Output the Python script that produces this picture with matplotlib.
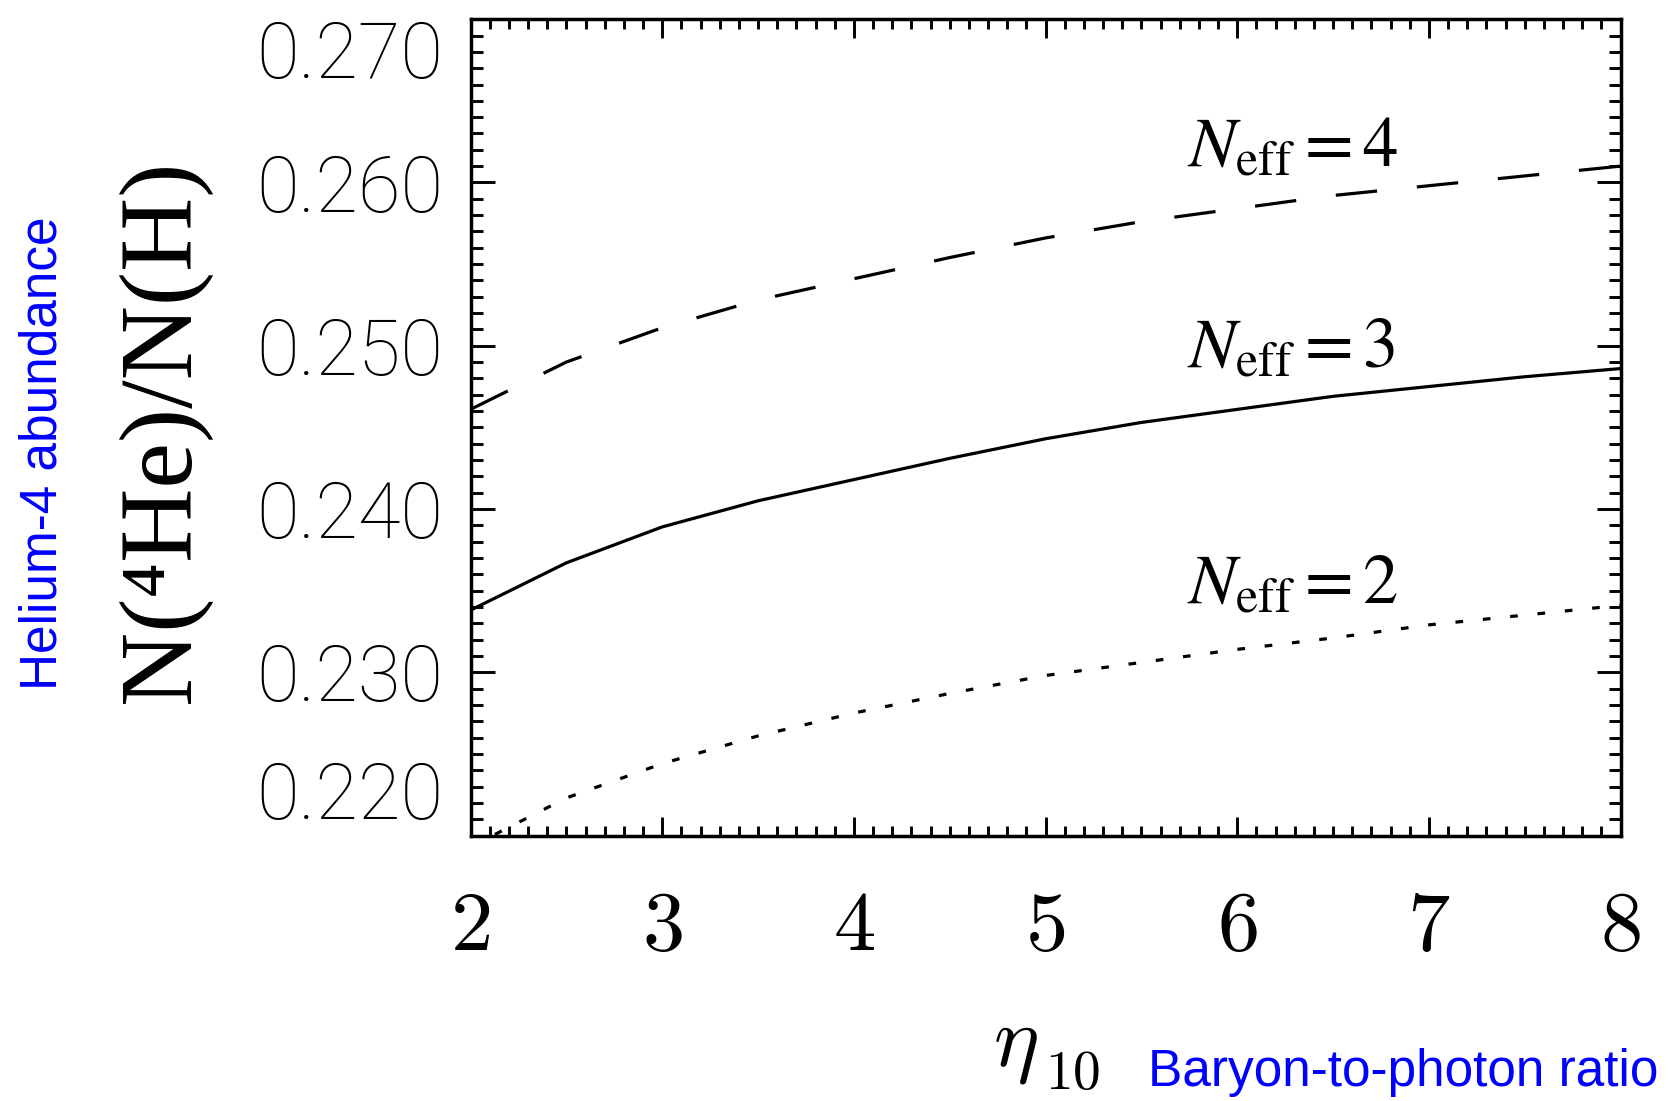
import matplotlib
matplotlib.use("Agg")
import matplotlib.pyplot as plt
from matplotlib import font_manager as fm
from matplotlib.ticker import MultipleLocator, FuncFormatter

# values
eta10 = [2.0, 2.5, 3.0, 3.5, 4.0, 4.5, 5.0, 5.5, 6.0, 6.5, 7.0, 7.5, 8.0]
yp_neff2 = [0.2193, 0.2223, 0.2244, 0.2261, 0.2275, 0.2287, 0.2298,
            0.2306, 0.2314, 0.2321, 0.2329, 0.2335, 0.2341]
yp_neff3 = [0.2338, 0.2367, 0.2389, 0.2405, 0.2418, 0.2431, 0.2443,
            0.2453, 0.2461, 0.2469, 0.2475, 0.2481, 0.2486]
yp_neff4 = [0.2461, 0.2490, 0.2511, 0.2528, 0.2541, 0.2554, 0.2566,
            0.2576, 0.2584, 0.2592, 0.2598, 0.2604, 0.2610]

neff_names = ["2", "3", "4"]
neff_label_x = 5.74
neff_label_y = [0.2342, 0.2487, 0.2610]

x_ticks = [2, 3, 4, 5, 6, 7, 8]
y_ticks = [0.220, 0.230, 0.240, 0.250, 0.260, 0.270]

W, H = 1673, 1101


def has_font(name):
    try:
        fm.findfont(fm.FontProperties(family=name), fallback_to_default=False)
        return True
    except ValueError:
        return False


if has_font("Liberation Sans Narrow"):
    tick_font, tick_size = "Liberation Sans Narrow", 66
elif has_font("Roboto"):
    tick_font, tick_size = "Roboto", 56
else:
    tick_font, tick_size = "Liberation Sans", 55

plt.rcParams["mathtext.fontset"] = "cm"

fig = plt.figure(figsize=(W / 100, H / 100), dpi=100)
ax = fig.add_axes([470.5 / W, 1 - 835.5 / H, 1150 / W, 816.3 / H])

lw = 2.3
ax.plot(eta10, yp_neff4, color="black", lw=lw, dashes=(13, 12.5))
ax.plot(eta10, yp_neff3, color="black", lw=lw)
ax.plot(eta10, yp_neff2, color="black", lw=lw, dashes=(2.4, 6.2))

ax.set_xlim(2, 8)
ax.set_ylim(0.220, 0.270)
ax.set_xticks(x_ticks)
ax.set_yticks(y_ticks)
ax.xaxis.set_minor_locator(MultipleLocator(0.1))
ax.yaxis.set_minor_locator(MultipleLocator(0.001))
ax.xaxis.set_major_formatter(FuncFormatter(lambda v, p: f"${int(round(v))}$"))
ax.yaxis.set_major_formatter(FuncFormatter(lambda v, p: f"{v:.3f}"))

for s in ax.spines.values():
    s.set_linewidth(2.5)

ax.tick_params(axis="both", which="both", direction="in",
               top=True, right=True, width=2.1, color="black")
ax.tick_params(axis="x", which="major", length=13.4, pad=36, labelsize=61)
ax.tick_params(axis="x", which="minor", length=7.2)
ax.tick_params(axis="y", which="major", length=17.6, pad=19.5,
               labelsize=tick_size)
ax.tick_params(axis="y", which="minor", length=8.8)
for lab in ax.get_yticklabels():
    lab.set_fontfamily(tick_font)
    lab.set_fontweight("light")

ylabs = ax.get_yticklabels()
ylabs[0].set_va("bottom")
ylabs[-1].set_va("top")

# curve labels
for name, ly in zip(neff_names, neff_label_y):
    ax.text(neff_label_x, ly, r"$N_{\rm eff}=" + name + "$", fontsize=51,
            ha="left", va="baseline", math_fontfamily="stix")

# axis titles
fig.text(189 / W, 1 - 431.5 / H, "N(\u2074He)/N(H)", rotation=90,
         rotation_mode="anchor", ha="center", va="baseline", fontsize=74,
         family=["Liberation Serif", "DejaVu Serif"])
fig.text(57 / W, 1 - 453 / H, "Helium-4 abundance", rotation=90,
         rotation_mode="anchor", ha="center", va="baseline", fontsize=37,
         family="Liberation Sans", color="#0000ff")

fig.text(993 / W, 1 - 1066 / H, r"$\eta$", ha="left",
         va="baseline", fontsize=62)
fig.text(1045 / W, 1 - 1089 / H, r"$10$", ha="left",
         va="baseline", fontsize=40)
fig.text(1148 / W, 1 - 1086 / H, "Baryon-to-photon ratio", ha="left",
         va="baseline", fontsize=37, family="Liberation Sans",
         color="#0000ff")

fig.savefig("out.png", dpi=100)
plt.close(fig)
